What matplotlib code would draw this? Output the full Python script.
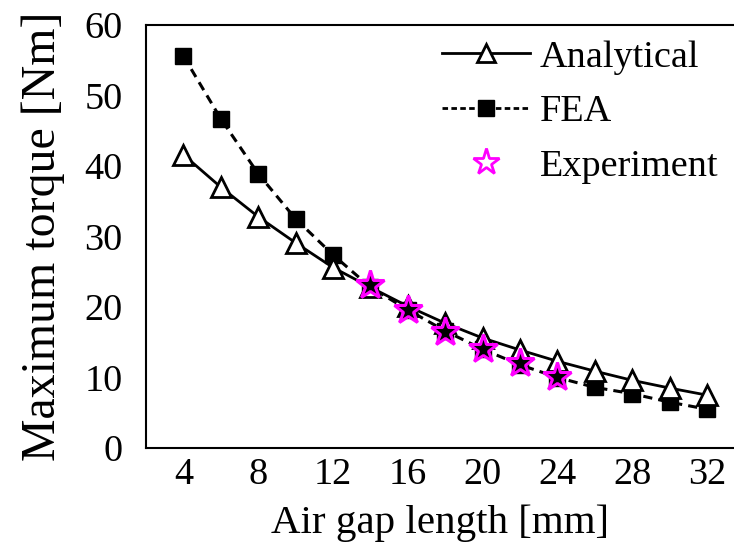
import matplotlib.pyplot as plt
from matplotlib.lines import Line2D

# values
gap = [4, 6, 8, 10, 12, 14, 16, 18, 20, 22, 24, 26, 28, 30, 32]
analytical = [41.6, 37.0, 32.8, 29.1, 25.6, 22.8, 20.1, 17.7, 15.6, 13.9, 12.3, 10.9, 9.6, 8.5, 7.5]
fea = [55.6, 46.7, 38.9, 32.5, 27.4, 22.8, 19.6, 16.6, 14.0, 11.8, 10.0, 8.6, 7.7, 6.5, 5.5]
exp_gap = [14, 16, 18, 20, 22, 24]
experiment = [23.1, 19.6, 16.5, 14.1, 12.0, 10.1]

xticks = [4, 8, 12, 16, 20, 24, 28, 32]
yticks = [0, 10, 20, 30, 40, 50, 60]

plt.rcParams['font.family'] = 'Liberation Serif'

fig = plt.figure(figsize=(7.34, 5.51), dpi=100)
ax = fig.add_axes([146 / 734, 103 / 551, 588 / 734, 423 / 551])

ax.plot(gap, analytical, color='black', linewidth=2, marker='^', markersize=15,
        markerfacecolor='white', markeredgecolor='black', markeredgewidth=2, zorder=3)
ax.plot(gap, fea, color='black', linewidth=2.2, linestyle=(0, (3, 2)), marker='s', markersize=12,
        markerfacecolor='black', markeredgecolor='black', zorder=2)
ax.plot(exp_gap, experiment, linestyle='none', marker='*', markersize=21,
        markerfacecolor='black', markeredgecolor='magenta', markeredgewidth=2.2, zorder=4)

handles = [
    Line2D([], [], color='black', linewidth=2, marker='^', markersize=13,
           markerfacecolor='white', markeredgecolor='black', markeredgewidth=2),
    Line2D([], [], color='black', linewidth=2, linestyle=(0, (2, 1.2)), marker='s', markersize=11,
           markerfacecolor='black'),
    Line2D([], [], linestyle='none', marker='*', markersize=20,
           markerfacecolor='white', markeredgecolor='magenta', markeredgewidth=2),
]
ax.legend(handles, ['Analytical', 'FEA', 'Experiment'], loc='upper left',
          bbox_to_anchor=(0.503, 0.965), frameon=False, fontsize=27.5, borderpad=0,
          handlelength=2.3, handletextpad=0.27, labelspacing=0.52, borderaxespad=0)

ax.set_xlim(2, 33.44)
ax.set_ylim(0, 60)
ax.set_xticks(xticks)
ax.set_yticks(yticks)
ax.tick_params(length=0, labelsize=27.5)
ax.tick_params(axis='x', pad=7)
ax.tick_params(axis='y', pad=17)
ax.spines['right'].set_visible(False)
for s in ['left', 'bottom', 'top']:
    ax.spines[s].set_linewidth(1.5)

ax.set_xlabel('Air gap length [mm]', fontsize=29.5, labelpad=9)
ax.set_ylabel('Maximum torque [Nm]', fontsize=34.5, labelpad=14)

fig.savefig('out.png', dpi=100)
